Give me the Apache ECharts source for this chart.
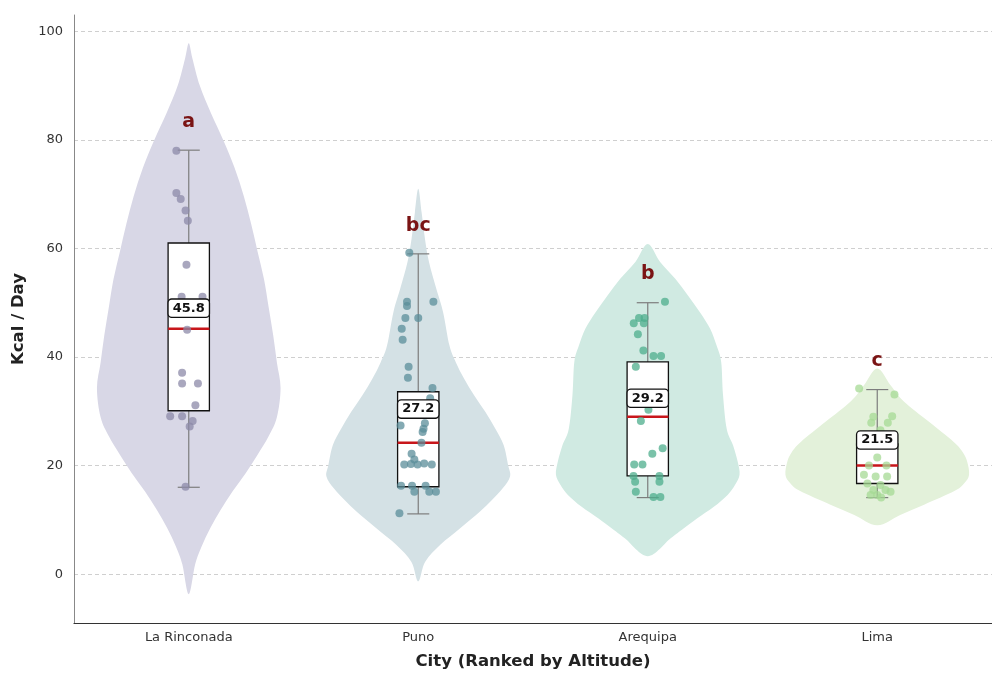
<!DOCTYPE html>
<html>
<head>
<meta charset="utf-8">
<script src="https://cdn.jsdelivr.net/npm/echarts@6/dist/echarts.min.js"></script>
<style>
  html, body { margin: 0; padding: 0; background: #fff; }
  #chart { width: 992px; height: 675px; }
</style>
</head>
<body>
<div id="chart"></div>
<script>
const cities = ["La Rinconada", "Puno", "Arequipa", "Lima"]
const letters = ["a", "bc", "b", "c"]
const letterY = [83.3, 64.1, 55.3, 39.3]
const means = [45.8, 27.2, 29.2, 21.5]

// [whisker low, Q1, median, Q3, whisker high]
const boxLR = [16.0, 30.1, 45.2, 61.0, 78.1]
const boxPuno = [11.1, 16.1, 24.2, 33.6, 59.0]
const boxArequipa = [14.1, 18.1, 29.0, 39.1, 50.0]
const boxLima = [14.1, 16.7, 20.0, 24.0, 34.0]

// violin outline: [kcal, relative half width]
const violinLR = [[97.8, 0], [95, 0.04], [90, 0.12], [85, 0.24], [79.8, 0.38], [74.8, 0.5], [69.6, 0.6], [64.5, 0.68], [59.4, 0.75], [54.3, 0.82], [49.2, 0.87], [44, 0.92], [39, 0.96], [34.3, 1], [28.9, 0.96], [25.4, 0.87], [22, 0.75], [18.6, 0.62], [15.3, 0.48], [11.9, 0.35], [8.5, 0.235], [5.1, 0.14], [1.8, 0.07], [-3.7, 0]]
const violinPuno = [[71, 0], [66.7, 0.036], [61.8, 0.073], [57.5, 0.117], [52.6, 0.196], [48.3, 0.27], [42.1, 0.34], [39, 0.41], [36, 0.5], [32.9, 0.61], [29.9, 0.73], [26.8, 0.84], [23.8, 0.93], [20, 0.98], [18, 1], [15.8, 0.92], [13.6, 0.8], [11.5, 0.67], [8.5, 0.46], [5.4, 0.24], [2.3, 0.076], [-1.3, 0]]
const violinArequipa = [[60.8, 0], [57.5, 0.135], [54.4, 0.3], [51.3, 0.44], [48.2, 0.57], [45.2, 0.68], [42.1, 0.75], [39.1, 0.8], [33, 0.82], [26.8, 0.86], [23.7, 0.93], [20.7, 0.98], [18.3, 1], [16.4, 0.95], [14.6, 0.87], [12.4, 0.72], [10.3, 0.54], [8.4, 0.39], [6.6, 0.25], [3.3, 0]]
const violinLima = [[37.9, 0], [34.8, 0.145], [31.8, 0.29], [28.1, 0.56], [24.4, 0.83], [22.5, 0.93], [20.7, 0.98], [18.3, 1], [16.8, 0.95], [15.3, 0.84], [12.8, 0.51], [10.9, 0.25], [9, 0]]

// points: [kcal, horizontal jitter (category units)]
const ptsLR = [[78, -0.054], [70.2, -0.054], [69.1, -0.035], [67, -0.014], [65.1, -0.004], [57, -0.01], [51.1, -0.031], [51.1, 0.06], [45, -0.007], [37.1, -0.029], [35.1, -0.029], [35.1, 0.04], [31.1, 0.029], [29.1, -0.081], [29.1, -0.029], [28.2, 0.017], [27.2, 0.004], [16.1, -0.014]]
const ptsPuno = [[59.2, -0.039], [50.2, -0.049], [49.4, -0.049], [50.2, 0.066], [47.2, -0.056], [47.2, 0], [45.2, -0.072], [43.2, -0.068], [38.2, -0.042], [36.2, -0.045], [34.3, 0.062], [32.4, 0.052], [29.9, 0.04], [27.4, -0.077], [27.8, 0.029], [26.8, 0.023], [26.2, 0.019], [24.2, 0.014], [22.2, -0.029], [20.2, -0.061], [20.3, -0.032], [20.2, -0.003], [20.4, 0.026], [20.2, 0.059], [21.1, -0.017], [16.3, -0.075], [16.3, -0.027], [16.3, 0.032], [15.2, -0.017], [15.2, 0.048], [15.2, 0.077], [11.2, -0.082]]
const ptsArequipa = [[50.2, 0.075], [47.2, -0.038], [47.2, -0.014], [46.2, -0.061], [46.2, -0.017], [44.2, -0.043], [41.2, -0.019], [40.2, 0.025], [40.2, 0.058], [38.2, -0.052], [30.3, 0.003], [28.2, -0.03], [23.2, 0.065], [22.2, 0.02], [20.2, -0.059], [20.2, -0.023], [18.1, -0.062], [18.1, 0.051], [17.0, -0.055], [17.0, 0.051], [15.2, -0.052], [14.2, 0.025], [14.2, 0.055]]
const ptsLima = [[34.2, -0.079], [33.1, 0.075], [29.0, -0.017], [29.1, 0.065], [27.9, -0.026], [27.9, 0.046], [26.5, 0.014], [25.7, 0.069], [23.8, -0.014], [21.5, 0], [20, -0.036], [20, 0.04], [18.3, -0.058], [18.0, -0.007], [18.0, 0.043], [16.7, -0.043], [16.4, 0.014], [15.5, -0.017], [15.5, 0.036], [15.2, 0.058], [14.6, 0], [14.6, -0.029], [14.1, 0.017]]

const violins = [violinLR, violinPuno, violinArequipa, violinLima]
const boxes = [boxLR, boxPuno, boxArequipa, boxLima]
const points = [ptsLR, ptsPuno, ptsArequipa, ptsLima]
const violinColors = ["#d8d7e6", "#d4e1e5", "#d0eae2", "#e3f1da"]
const pointColors = ["#8c89a8", "#5b8e99", "#4dae8c", "#a6da94"]

const chart = echarts.init(document.getElementById("chart"))
const font = "DejaVu Sans"

// closed Catmull-Rom curve through the outline, as an SVG path
function smoothPath(pts) {
  const n = pts.length
  let d = "M" + pts[0][0] + "," + pts[0][1]
  for (let k = 0; k < n; k++) {
    const p0 = pts[(k - 1 + n) % n], p1 = pts[k], p2 = pts[(k + 1) % n], p3 = pts[(k + 2) % n]
    const c1 = [p1[0] + (p2[0] - p0[0]) / 6, p1[1] + (p2[1] - p0[1]) / 6]
    const c2 = [p2[0] - (p3[0] - p1[0]) / 6, p2[1] - (p3[1] - p1[1]) / 6]
    d += "C" + c1[0] + "," + c1[1] + " " + c2[0] + "," + c2[1] + " " + p2[0] + "," + p2[1]
  }
  return d + "Z"
}

const violinSeries = {
  type: "custom",
  xAxisIndex: 1,
  z: 1,
  silent: true,
  data: cities.map((c, i) => [i]),
  renderItem: (params, api) => {
    const i = api.value(0)
    const prof = violins[i]
    const right = prof.map(([v, w]) => api.coord([i + w * 0.4, v]))
    const left = prof.slice(1, -1).reverse().map(([v, w]) => api.coord([i - w * 0.4, v]))
    return {
      type: "path",
      shape: { pathData: smoothPath(right.concat(left)) },
      style: { fill: violinColors[i], stroke: null }
    }
  }
}

const boxSeries = {
  type: "custom",
  xAxisIndex: 1,
  z: 2,
  silent: true,
  data: cities.map((c, i) => [i]),
  renderItem: (params, api) => {
    const i = api.value(0)
    const [lo, q1, med, q3, hi] = boxes[i]
    const half = 0.09, cap = 0.048
    const p = (x, v) => api.coord([i + x, v])
    const seg = (a, b, style) => ({ type: "line", shape: { x1: a[0], y1: a[1], x2: b[0], y2: b[1] }, style })
    const grey = { stroke: "#7d7d7d", lineWidth: 1.2 }
    const tl = p(-half, q3), br = p(half, q1)
    return {
      type: "group",
      children: [
        seg(p(0, hi), p(0, q3), grey),
        seg(p(0, q1), p(0, lo), grey),
        seg(p(-cap, hi), p(cap, hi), grey),
        seg(p(-cap, lo), p(cap, lo), grey),
        { type: "rect", shape: { x: tl[0], y: tl[1], width: br[0] - tl[0], height: br[1] - tl[1] }, style: { fill: "#fff", stroke: "#111", lineWidth: 1.3 } },
        seg(p(-half, med), p(half, med), { stroke: "#c8161b", lineWidth: 2.5 })
      ]
    }
  }
}

const pointSeries = points.map((pts, i) => ({
  type: "scatter",
  xAxisIndex: 1,
  z: 3,
  silent: true,
  symbolSize: 8,
  itemStyle: { color: pointColors[i], opacity: 0.75 },
  data: pts.map(([v, j]) => [i + j, v])
}))

const meanSeries = {
  type: "custom",
  xAxisIndex: 1,
  z: 4,
  silent: true,
  data: means.map((m, i) => [i, m]),
  renderItem: (params, api) => {
    const i = api.value(0)
    const c = api.coord([i, api.value(1) + 3.2])
    return {
      type: "text",
      x: c[0], y: c[1],
      style: {
        text: means[i].toFixed(1),
        font: "bold 13px " + font,
        fill: "#111",
        align: "center",
        verticalAlign: "middle",
        backgroundColor: "#fff",
        borderColor: "#111",
        borderWidth: 1.3,
        borderRadius: 3,
        padding: [2, 4]
      }
    }
  }
}

const letterSeries = {
  type: "custom",
  xAxisIndex: 1,
  z: 5,
  silent: true,
  data: letterY.map((y, i) => [i, y]),
  renderItem: (params, api) => {
    const i = api.value(0)
    const c = api.coord([i, api.value(1)])
    return {
      type: "text",
      x: c[0], y: c[1],
      style: {
        text: letters[i],
        font: "bold 19px " + font,
        fill: "#7a1414",
        align: "center",
        verticalAlign: "middle"
      }
    }
  }
}

chart.setOption({
  animation: false,
  grid: { left: 74, right: -6, top: 15, bottom: 50 },
  xAxis: [
    {
      type: "category",
      data: cities,
      name: "City (Ranked by Altitude)",
      nameLocation: "middle",
      nameGap: 30,
      nameTextStyle: { fontFamily: font, fontSize: 16.5, fontWeight: "bold", color: "#222" },
      axisLine: { onZero: false, lineStyle: { color: "#333", width: 1.2 } },
      axisTick: { show: false },
      axisLabel: { fontFamily: font, fontSize: 13, color: "#333", margin: 8 },
      splitLine: { show: false }
    },
    { type: "value", min: -0.5, max: 3.5, show: false }
  ],
  yAxis: {
    type: "value",
    min: -9,
    max: 103,
    splitNumber: 5,
    name: "Kcal / Day",
    nameLocation: "middle",
    nameGap: 44,
    nameTextStyle: { fontFamily: font, fontSize: 16.5, fontWeight: "bold", color: "#222" },
    axisLine: { show: true, onZero: false, lineStyle: { color: "#888", width: 1 } },
    axisTick: { show: false },
    axisLabel: { fontFamily: font, fontSize: 13, color: "#333", margin: 11, showMinLabel: false, showMaxLabel: false },
    splitLine: { show: true, showMinLine: false, showMaxLine: false, lineStyle: { color: "#cfcfcf", type: [4, 3], width: 1 } }
  },
  series: [violinSeries, boxSeries, ...pointSeries, meanSeries, letterSeries]
})
</script>
</body>
</html>
